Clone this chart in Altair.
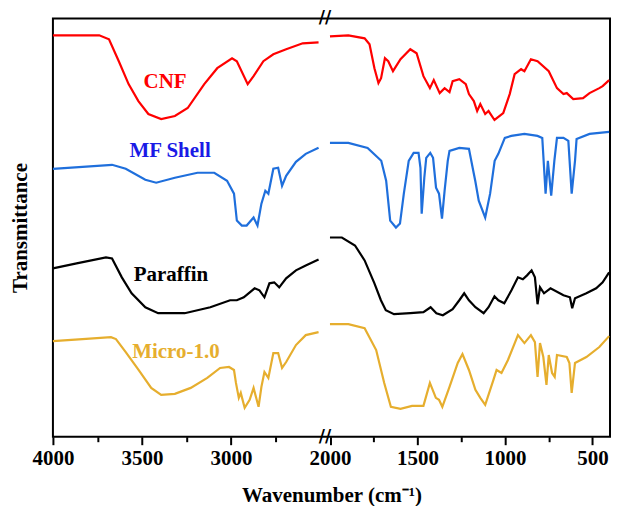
import altair as alt
import pandas as pd

series = ["CNF", "MF Shell", "Paraffin", "Micro-1.0"]
line_colors = ["#FF0000", "#1F6FDC", "#000000", "#E6AE2E"]
label_colors = ["#FF0000", "#1A1AE6", "#000000", "#E6AE2E"]

# ---- CNF ----
cnf_l_wn = [4000, 3740, 3685, 3630, 3575, 3520, 3464, 3392, 3315, 3243, 3150, 3077, 2994, 2967, 2906, 2873, 2818, 2762, 2690, 2597, 2508]
cnf_l_t = [403, 403, 399, 377, 354, 337, 324, 319, 322, 330, 354, 370, 380, 377, 354, 362, 377, 384, 389, 395, 396]
cnf_r_wn = [2000, 1895, 1802, 1774, 1746, 1723, 1708, 1686, 1667, 1640, 1597, 1541, 1505, 1466, 1429, 1407, 1373, 1345, 1317, 1299, 1261, 1224, 1206, 1178, 1159, 1141, 1113, 1094, 1060, 1010, 973, 945, 908, 889, 852, 814, 750, 703, 666, 647, 610, 554, 517, 461, 442, 405]
cnf_r_t = [402, 403, 400, 394, 370, 355, 360, 380, 377, 367, 379, 389, 385, 362, 350, 358, 345, 350, 346, 357, 359, 354, 344, 337, 327, 334, 324, 327, 318, 325, 344, 364, 369, 367, 379, 377, 367, 350, 344, 345, 339, 340, 345, 350, 352, 358]

# ---- MF Shell ----
mf_l_wn = [4000, 3668, 3591, 3481, 3420, 3315, 3188, 3094, 3022, 2983, 2967, 2939, 2912, 2873, 2851, 2829, 2807, 2790, 2762, 2735, 2713, 2690, 2635, 2580, 2508]
mf_l_t = [269, 273, 269, 258, 255, 260, 265, 265, 257, 244, 217, 212, 212, 220, 212, 234, 247, 244, 269, 270, 252, 262, 276, 284, 290]
mf_r_wn = [2000, 1895, 1785, 1707, 1679, 1656, 1623, 1600, 1578, 1550, 1522, 1494, 1483, 1476, 1461, 1450, 1427, 1411, 1394, 1377, 1360, 1345, 1327, 1317, 1261, 1206, 1178, 1170, 1150, 1113, 1085, 1059, 1038, 1001, 964, 889, 814, 787, 768, 755, 736, 718, 703, 666, 638, 619, 600, 591, 517, 405]
mf_r_t = [295, 295, 290, 277, 257, 217, 210, 214, 244, 277, 285, 285, 270, 224, 260, 280, 285, 280, 250, 244, 219, 247, 277, 287, 290, 289, 264, 257, 237, 220, 244, 277, 284, 300, 302, 304, 302, 300, 244, 277, 242, 277, 300, 300, 297, 244, 277, 299, 304, 306]

# ---- Paraffin ----
par_l_wn = [4000, 3867, 3702, 3668, 3613, 3558, 3481, 3409, 3260, 3116, 3005, 2967, 2928, 2867, 2840, 2812, 2784, 2757, 2729, 2690, 2635, 2580, 2508]
par_l_t = [169, 174, 180, 179, 160, 144, 130, 124, 124, 130, 137, 137, 140, 149, 147, 140, 154, 155, 150, 159, 167, 172, 178]
par_r_wn = [2000, 1932, 1857, 1802, 1746, 1709, 1681, 1634, 1541, 1466, 1425, 1392, 1355, 1299, 1261, 1233, 1206, 1169, 1122, 1094, 1060, 1038, 1004, 963, 926, 898, 874, 848, 829, 814, 800, 777, 740, 666, 629, 616, 600, 535, 479, 442, 405]
par_r_t = [200, 200, 192, 177, 154, 137, 127, 123, 124, 125, 130, 124, 122, 128, 137, 144, 137, 130, 124, 130, 141, 137, 134, 147, 160, 158, 162, 167, 160, 133, 150, 144, 149, 142, 140, 129, 139, 144, 149, 155, 165]

# ---- Micro-1.0 ----
mic_l_wn = [4000, 3834, 3674, 3646, 3591, 3519, 3448, 3392, 3315, 3226, 3133, 3061, 3011, 2983, 2972, 2956, 2945, 2923, 2895, 2873, 2845, 2829, 2812, 2790, 2762, 2735, 2713, 2690, 2635, 2580, 2508]
mic_l_t = [96, 98, 100, 98, 85, 67, 49, 42, 43, 49, 59, 69, 70, 67, 54, 39, 44, 29, 37, 49, 30, 50, 65, 59, 84, 84, 69, 75, 92, 102, 105]
mic_r_wn = [2000, 1895, 1802, 1736, 1690, 1652, 1597, 1531, 1466, 1429, 1395, 1377, 1358, 1317, 1270, 1243, 1206, 1169, 1141, 1113, 1066, 1048, 1020, 983, 926, 889, 852, 829, 814, 800, 781, 763, 750, 731, 716, 703, 647, 632, 619, 600, 535, 461, 405]
mic_r_t = [113, 113, 109, 87, 54, 30, 28, 31, 31, 54, 39, 37, 30, 50, 74, 83, 67, 47, 39, 32, 57, 67, 64, 77, 102, 94, 102, 95, 60, 94, 80, 52, 82, 64, 60, 82, 80, 74, 44, 74, 80, 90, 101]

# series label annotations
label_wn = [3370, 3342, 3337, 3309]
label_t = [356, 287, 162, 85]

major_ticks = [4000, 3500, 3000, 2000, 1500, 1000, 500]
minor_ticks = [3750, 3250, 2750, 1750, 1250, 750]
gap_mid = [2250]

segments = [
    ("CNF", "L", cnf_l_wn, cnf_l_t), ("CNF", "R", cnf_r_wn, cnf_r_t),
    ("MF Shell", "L", mf_l_wn, mf_l_t), ("MF Shell", "R", mf_r_wn, mf_r_t),
    ("Paraffin", "L", par_l_wn, par_l_t), ("Paraffin", "R", par_r_wn, par_r_t),
    ("Micro-1.0", "L", mic_l_wn, mic_l_t), ("Micro-1.0", "R", mic_r_wn, mic_r_t),
]
rows = []
for name, side, wns, ts in segments:
    for w, t in zip(wns, ts):
        rows.append({"series": name, "seg": name + side, "wn": w, "t": t})
df = pd.DataFrame(rows)
labels_df = pd.DataFrame({"label": series, "wn": label_wn, "t": label_t})
minor_df = pd.DataFrame({"wn": minor_ticks})
gap_df = pd.DataFrame({"wn": gap_mid})

FONT = "Liberation Serif"
W, H = 558, 419

x_scale = alt.Scale(domain=[4000, 2500, 2000, 400], range=[0, 267.5, 277.5, W], nice=False, zero=False)
y_scale = alt.Scale(domain=[0, 420], nice=False, zero=False)

lines = alt.Chart(df).mark_line(strokeWidth=2.2).encode(
    x=alt.X("wn:Q", scale=x_scale,
            axis=alt.Axis(values=major_ticks, format="d", title="Wavenumber (cm⁻¹)", orient="bottom",
                          tickSize=8, tickWidth=2, tickColor="black", domain=False, grid=False,
                          labelFlush=False, labelPadding=3, titlePadding=16)),
    y=alt.Y("t:Q", scale=y_scale,
            axis=alt.Axis(labels=False, ticks=False, domain=False, grid=False,
                          title="Transmittance", titlePadding=22)),
    color=alt.Color("series:N", scale=alt.Scale(domain=series, range=line_colors), legend=None),
    detail="seg:N",
)

minor = alt.Chart(minor_df).mark_point(opacity=0).encode(
    x=alt.X("wn:Q", scale=x_scale,
            axis=alt.Axis(values=minor_ticks, labels=False, title=None, orient="bottom", tickSize=5,
                          tickWidth=2, tickColor="black", domain=False, grid=False)),
    y=alt.value(0),
)

texts = alt.Chart(labels_df).mark_text(font=FONT, fontSize=21, fontWeight="bold", baseline="middle").encode(
    x=alt.X("wn:Q", scale=x_scale, axis=None),
    y=alt.Y("t:Q", scale=y_scale),
    text="label:N",
    color=alt.Color("label:N", scale=alt.Scale(domain=series, range=label_colors), legend=None),
)

brk_top = alt.Chart(gap_df).mark_text(text="//", font="DejaVu Sans", fontSize=17, fontWeight="bold",
                                      baseline="middle", color="black").encode(
    x=alt.X("wn:Q", scale=x_scale, axis=None), y=alt.value(0))
brk_bot = alt.Chart(gap_df).mark_text(text="//", font="DejaVu Sans", fontSize=17, fontWeight="bold",
                                      baseline="middle", color="black").encode(
    x=alt.X("wn:Q", scale=x_scale, axis=None), y=alt.value(H))

chart = alt.layer(lines, minor, texts, brk_top, brk_bot).resolve_axis(
    x="independent"
).resolve_scale(color="independent").properties(
    width=W, height=H, padding={"left": 2, "top": 1, "right": 0, "bottom": 0}
).configure_view(stroke="black", strokeWidth=2).configure_axis(
    labelFont=FONT, labelFontSize=21, labelFontWeight="bold", labelColor="black",
    titleFont=FONT, titleFontSize=21, titleFontWeight="bold", titleColor="black",
)

chart.save("out.html", embed_options={"renderer": "svg", "actions": False})
